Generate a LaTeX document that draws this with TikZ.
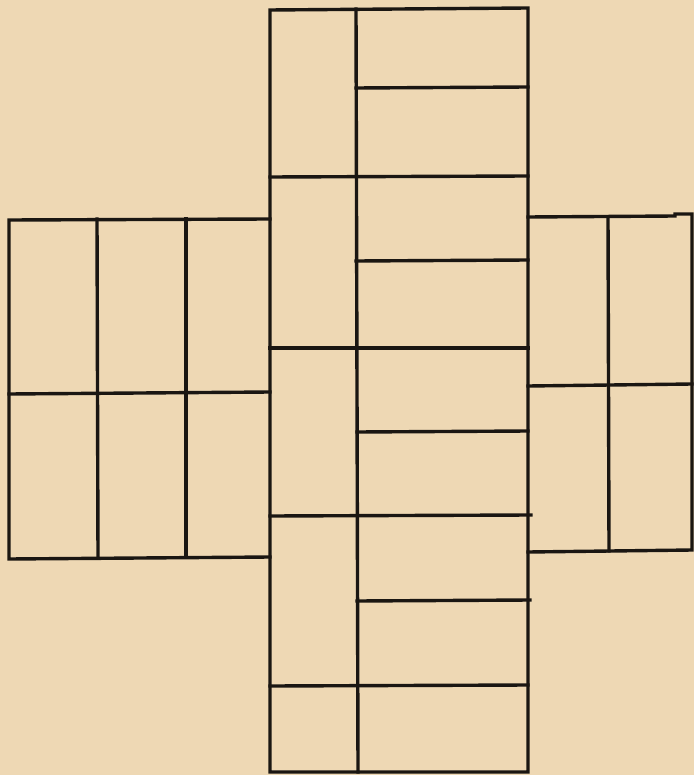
\documentclass[tikz,border=0pt]{standalone}
\usepackage{tikz}
\definecolor{paper}{RGB}{238,216,180}
\definecolor{ink}{RGB}{26,22,18}
\begin{document}
\begin{tikzpicture}[x=1pt,y=-1pt,
  ln/.style={draw=ink,line width=3.4pt,line cap=rect,line join=miter}]
\fill[paper] (0,0) rectangle (694,775);
\useasboundingbox (0,0) rectangle (694,775);
% central column
\draw[ln] (270,10) -- (528,8) -- (528,772) -- (270,772) -- cycle;
\draw[ln] (356,9) -- (358,772);
% full-width horizontals
\draw[ln] (270,177) -- (528,176);
\draw[ln] (270,348) -- (528,348);
\draw[ln] (270,516) -- (531,515);
\draw[ln] (270,686) -- (528,685);
% right-part horizontals
\draw[ln] (356,88) -- (528,87);
\draw[ln] (356,261) -- (528,260);
\draw[ln] (357,432) -- (528,431);
\draw[ln] (357,601) -- (530,600);
% left wing
\draw[ln] (270,219) -- (9,220) -- (9,559) -- (270,557);
\draw[ln] (97,219) -- (98,558);
\draw[ln] (186,219) -- (186,557);
\draw[ln] (9,394) -- (270,392);
% right wing
\draw[ln] (528,217) -- (675,216) -- (675,214) -- (692,214) -- (692,550) -- (528,552);
\draw[ln] (608,217) -- (609,551);
\draw[ln] (528,386) -- (692,384);
\end{tikzpicture}
\end{document}
